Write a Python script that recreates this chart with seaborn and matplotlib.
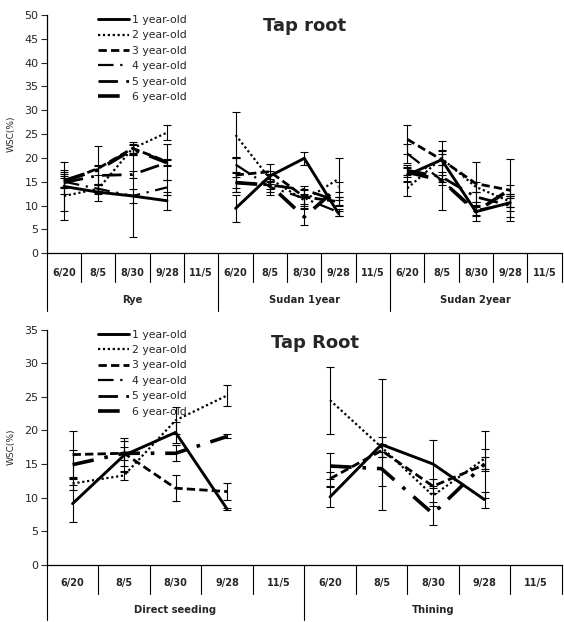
"""
WSC (%) in tap root by age class - two stacked panels
"""

import numpy as np
import pandas as pd
import matplotlib
matplotlib.use('Agg')
import matplotlib.pyplot as plt
import seaborn as sns
from matplotlib.lines import Line2D

sns.set_style("white")
plt.rcParams['font.family'] = ['DejaVu Sans']

# ---- data ----
DATES = ['6/20', '8/5', '8/30', '9/28', '11/5']
AGES = ['1 year-old', '2 year-old', '3 year-old', '4 year-old', '5 year-old', '6 year-old']
TOP_GROUPS = ['Rye', 'Sudan 1year', 'Sudan 2year']
BOTTOM_GROUPS = ['Direct seeding', 'Thining']

nan = np.nan

# means per age class, dates 6/20 .. 9/28 (11/5 empty)
rye_mean = [
    [14.0, 12.8, 12.0, 11.0],
    [12.0, 13.5, 22.0, 25.3],
    [15.0, 17.8, 22.0, 19.2],
    [15.0, 13.5, 12.0, 13.8],
    [14.8, 16.3, 16.5, 19.0],
    [15.2, 17.5, 21.8, 19.0],
]
rye_err = [
    [5.2, 1.8, 8.7, 1.9],
    [5.0, 0.8, 1.4, 1.6],
    [2.5, 4.7, 1.0, 3.8],
    [1.2, 1.0, 1.5, 1.5],
    [1.0, 2.0, 0.8, 0.6],
    [1.5, 1.0, 1.0, 0.8],
]
sudan1_mean = [
    [9.4, 16.2, 19.9, 8.3],
    [24.8, 15.6, 11.1, 15.6],
    [16.4, 17.1, 11.8, 10.8],
    [18.6, 13.9, 11.5, 8.6],
    [14.8, 14.3, 13.3, 10.9],
    [14.8, 14.3, 7.6, 13.9],
]
sudan1_err = [
    [2.9, 1.0, 1.4, 0.5],
    [4.9, 1.0, 1.2, 4.4],
    [3.5, 1.6, 1.5, 1.0],
    [1.5, 1.0, 2.0, 0.7],
    [2.0, 2.1, 0.8, 0.8],
    [1.2, 0.8, 1.6, 1.0],
]
sudan2_mean = [
    [16.4, 19.6, 8.7, 10.6],
    [13.6, 19.9, 13.9, 10.8],
    [23.9, 19.6, 14.6, 13.2],
    [20.9, 15.3, 9.0, 10.4],
    [17.4, 16.0, 11.8, 10.0],
    [17.0, 15.3, 8.7, 13.4],
]
sudan2_err = [
    [1.5, 4.0, 2.0, 1.0],
    [1.6, 1.5, 1.0, 1.2],
    [3.1, 1.2, 4.5, 6.5],
    [2.0, 6.3, 1.0, 1.5],
    [1.0, 1.0, 1.0, 2.5],
    [1.0, 1.0, 1.0, 1.0],
]
direct_mean = [
    [9.1, 16.3, 19.7, 8.3],
    [12.1, 13.3, 21.5, 25.2],
    [16.4, 16.6, 11.4, 10.9],
    [nan, nan, nan, nan],
    [nan, nan, nan, nan],
    [14.9, 16.6, 16.6, 19.1],
]
direct_err = [
    [2.8, 2.5, 1.5, 0.2],
    [1.0, 0.7, 2.0, 1.6],
    [3.5, 1.0, 1.9, 1.2],
    [nan, nan, nan, nan],
    [nan, nan, nan, nan],
    [2.2, 1.9, 1.2, 0.3],
]
thin_mean = [
    [10.1, 17.9, 15.0, 9.7],
    [24.5, 17.5, 10.3, 15.8],
    [12.8, 17.0, 11.7, 14.9],
    [nan, nan, nan, nan],
    [nan, nan, nan, nan],
    [14.7, 14.3, 7.6, 15.0],
]
thin_err = [
    [1.5, 9.7, 3.6, 1.2],
    [5.0, 1.5, 1.5, 1.5],
    [1.0, 1.0, 1.0, 5.0],
    [nan, nan, nan, nan],
    [nan, nan, nan, nan],
    [1.9, 2.5, 1.7, 1.0],
]

# line look for each age class: (linewidth, linestyle)
STYLES = [
    (2.1, '-'),
    (1.6, (0, (1, 1.2))),
    (2.0, (0, (3, 1.5))),
    (1.6, (0, (7, 3, 1, 3))),
    (2.0, (0, (7, 3, 1, 3))),
    (2.6, (0, (6, 3, 1, 3))),
]


def to_long(means, errs):
    rows = []
    for g, (m, e) in enumerate(zip(means, errs)):
        for a, age in enumerate(AGES):
            for d in range(len(m[a])):
                rows.append({'age': age, 'group': g, 'pos': g * len(DATES) + d,
                             'wsc': m[a][d], 'err': e[a][d]})
    return pd.DataFrame(rows)


def draw_panel(ax, df, groups, ymax, title, title_xy, leg_x, sub_depth, grp_depth,
               lab_y, grp_y):
    for age, (lw, ls) in zip(AGES, STYLES):
        sub = df[(df['age'] == age) & df['wsc'].notna()]
        if sub.empty:
            continue
        ax.errorbar(sub['pos'], sub['wsc'], yerr=sub['err'], fmt='none',
                    ecolor='black', elinewidth=0.8, capsize=3, capthick=0.8)
        sns.lineplot(data=sub, x='pos', y='wsc', units='group', estimator=None,
                     color='black', linewidth=lw, linestyle=ls, legend=False, ax=ax)

    n = len(groups) * len(DATES)
    ax.set_xlim(-0.5, n - 0.5)
    ax.set_ylim(0, ymax)
    ax.set_yticks(np.arange(0, ymax + 1, 5))
    ax.set_xticks([])
    ax.set_xlabel('')
    ax.set_ylabel('WSC(%)', fontsize=6.5, labelpad=6)
    ax.tick_params(axis='y', direction='out', length=4, width=0.8, left=True,
                   labelsize=8, pad=2)
    for s in ['top', 'right']:
        ax.spines[s].set_visible(False)
    for s in ['left', 'bottom']:
        ax.spines[s].set_color('black')
        ax.spines[s].set_linewidth(0.9)

    # category "table" under the axis
    trans = ax.get_xaxis_transform()
    for b in range(n + 1):
        depth = grp_depth if (b % len(DATES) == 0 and b < n) else sub_depth
        ax.plot([b - 0.5, b - 0.5], [0, -depth], transform=trans, clip_on=False,
                color='black', lw=0.8)
    for i in range(n):
        ax.text(i, lab_y, DATES[i % len(DATES)], transform=trans, ha='center',
                va='center', fontsize=7.0, fontweight='bold')
    for g, name in enumerate(groups):
        ax.text(g * len(DATES) + 2, grp_y, name, transform=trans, ha='center',
                va='center', fontsize=7.2, fontweight='bold')

    ax.text(title_xy[0], title_xy[1], title, transform=ax.transAxes, ha='center',
            va='center', fontsize=13, fontweight='bold')

    handles = [Line2D([0], [0], color='black', lw=lw, linestyle=ls) for lw, ls in STYLES]
    ax.legend(handles, AGES, loc='upper left', bbox_to_anchor=(leg_x, 1.0),
              frameon=False, fontsize=7.8, handlelength=2.8, labelspacing=0.5,
              handletextpad=0.3, borderpad=0, borderaxespad=0)


fig = plt.figure(figsize=(5.64, 6.22), dpi=100)
ax_top = fig.add_axes([0.083, 0.593, 0.913, 0.383])
ax_bot = fig.add_axes([0.083, 0.092, 0.913, 0.378])

top_df = to_long([rye_mean, sudan1_mean, sudan2_mean], [rye_err, sudan1_err, sudan2_err])
bot_df = to_long([direct_mean, thin_mean], [direct_err, thin_err])

draw_panel(ax_top, top_df, TOP_GROUPS, 50, 'Tap root', (0.5, 0.955), 0.1,
           0.122, 0.244, -0.084, -0.197)
draw_panel(ax_bot, bot_df, BOTTOM_GROUPS, 35, 'Tap Root', (0.52, 0.945), 0.1,
           0.123, 0.234, -0.077, -0.191)

fig.savefig('out.png', dpi=100)
plt.close(fig)
